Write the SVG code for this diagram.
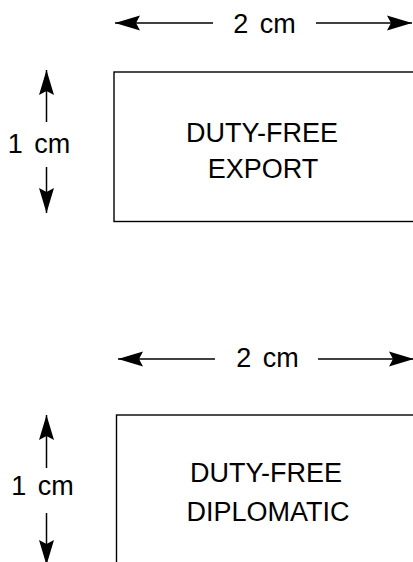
<svg xmlns="http://www.w3.org/2000/svg" width="413" height="562" viewBox="0 0 413 562">
<style>
.box{fill:#fff;stroke:#000;stroke-width:1.4}
.line{stroke:#000;stroke-width:1.5;fill:none;marker-end:url(#ah)}
.t{font-family:"Liberation Sans",Arial,Helvetica,sans-serif;font-size:27px;fill:#000;text-anchor:middle}
.dim{word-spacing:4px}
</style>
<defs>
<marker id="ah" markerUnits="userSpaceOnUse" markerWidth="28" markerHeight="16" viewBox="-26 -8 28 16" refX="0" refY="0" orient="auto">
<path d="M0,0 L-25,-7.5 L-21,0 L-25,7.5 Z" fill="#000"/>
</marker>
</defs>
<rect width="413" height="562" fill="#fff"/>
<g id="connectors">
<line class="line" x1="213" y1="23" x2="115" y2="23"/>
<line class="line" x1="316" y1="23" x2="412" y2="23"/>
<line class="line" x1="46.5" y1="122" x2="46.5" y2="70"/>
<line class="line" x1="46.5" y1="167" x2="46.5" y2="213"/>
<line class="line" x1="215" y1="359" x2="118" y2="359"/>
<line class="line" x1="318" y1="359" x2="414" y2="359"/>
<line class="line" x1="46.5" y1="468" x2="46.5" y2="415"/>
<line class="line" x1="46.5" y1="513" x2="46.5" y2="565"/>
</g>
<g id="dim-labels">
<text class="t dim" x="264.5" y="33">2 cm</text>
<text class="t dim" x="39" y="153">1 cm</text>
<text class="t dim" x="267.5" y="367">2 cm</text>
<text class="t dim" x="42.5" y="495">1 cm</text>
</g>
<g id="export">
<rect class="box" x="114" y="72" width="310" height="149.5"/>
<text class="t" x="262" y="142">DUTY-FREE</text>
<text class="t" x="263" y="178">EXPORT</text>
</g>
<g id="diplomatic">
<rect class="box" x="116.5" y="415" width="310" height="160"/>
<text class="t" x="266" y="482">DUTY-FREE</text>
<text class="t" x="268" y="521">DIPLOMATIC</text>
</g>
</svg>
